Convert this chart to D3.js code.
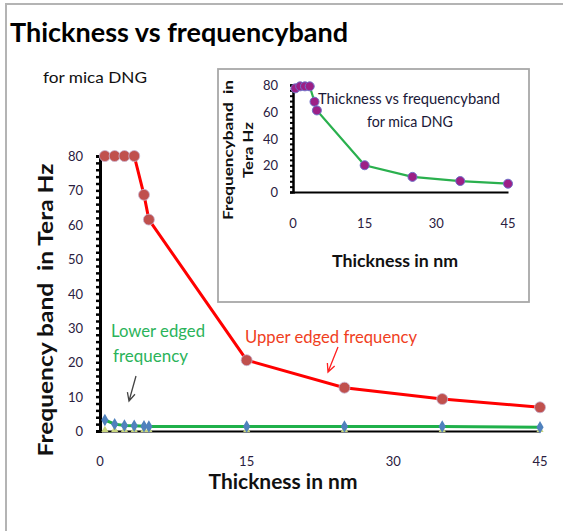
<!DOCTYPE html>
<html><head><meta charset="utf-8">
<script src="https://cdn.jsdelivr.net/npm/d3@7"></script>
<style>body{margin:0;background:#fff}svg{display:block}</style>
</head><body>
<script>
// ---- data ----
const thickness = [0.5, 1.5, 2.5, 3.5, 4.5, 5, 15, 25, 35, 45];
const upperFreq = [80, 80, 80, 80, 68.7, 61.5, 20.6, 12.6, 9.3, 6.9];
const lowerFreq = [3.2, 2.0, 1.6, 1.5, 1.4, 1.3, 1.3, 1.3, 1.3, 1.1];
const baseFreq  = [0.3, 0.3, 0.3, 0.3, 0.3, 0.3, 0.3, 0.3, 0.3, 0.3];
const insetFreq = [77.5, 79, 79, 79, 67.5, 61, 20, 11.3, 8.2, 6.2];
const xTicks = [0, 15, 30, 45];
const yTicksMain = [0, 10, 20, 30, 40, 50, 60, 70, 80];
const yTicksInset = [0, 20, 40, 60, 80];

const W = 563, H = 531;
const font = "Lato, 'Open Sans', sans-serif";
const svg = d3.select("body").append("svg").attr("width", W).attr("height", H);

// outer frame
svg.append("path").attr("d", `M6,${H} L6,4 L${W},4`).attr("fill", "none").attr("stroke", "#b4b4b4").attr("stroke-width", 2);

// titles
svg.append("text").attr("x", 10).attr("y", 42).attr("font-family", font).attr("font-weight", "bold")
  .attr("font-size", 27).attr("fill", "#000").attr("textLength", 338).attr("lengthAdjust", "spacingAndGlyphs")
  .text("Thickness vs frequencyband");
svg.append("text").attr("x", 43).attr("y", 83).attr("font-family", font)
  .attr("font-size", 16).attr("fill", "#111").attr("textLength", 104).attr("lengthAdjust", "spacingAndGlyphs")
  .text("for mica DNG");

// ---- main chart ----
const x = d3.scaleLinear().domain([0, 45]).range([100, 540]);
const y = d3.scaleLinear().domain([0, 80]).range([431, 156]);

// y axis with minor ticks
const yAxisG = svg.append("g").attr("transform", `translate(${x(0)},0)`)
  .call(d3.axisLeft(y).tickValues(d3.range(0, 81, 2)).tickSize(4).tickFormat(""));
yAxisG.select(".domain").attr("stroke", "#000").attr("stroke-width", 3);
yAxisG.selectAll(".tick line").attr("stroke", "#000").attr("stroke-width", 2.5);
svg.append("g").selectAll("text").data(yTicksMain).join("text")
  .attr("x", 83).attr("y", d => y(d) + 5).attr("text-anchor", "end")
  .attr("font-family", font).attr("font-size", 13).attr("fill", "#2a2040").text(d => d);

// x axis
const xAxisG = svg.append("g").attr("transform", `translate(0,${y(0)})`)
  .call(d3.axisBottom(x).tickValues(xTicks).tickSize(0).tickFormat(""));
xAxisG.select(".domain").attr("stroke", "#000").attr("stroke-width", 1.8);
svg.append("g").selectAll("text").data(xTicks).join("text")
  .attr("x", d => x(d)).attr("y", 466).attr("text-anchor", "middle")
  .attr("font-family", font).attr("font-size", 13).attr("fill", "#2a2040").text(d => d);

svg.append("text").attr("x", 283).attr("y", 489).attr("text-anchor", "middle")
  .attr("font-family", font).attr("font-weight", "bold").attr("font-size", 21).attr("fill", "#111")
  .attr("textLength", 149).attr("lengthAdjust", "spacingAndGlyphs")
  .text("Thickness in nm");
svg.append("text").attr("transform", "translate(53,310) rotate(-90)").attr("text-anchor", "middle")
  .attr("font-family", font).attr("font-weight", "bold").attr("font-size", 21).attr("fill", "#111")
  .attr("textLength", 293).attr("lengthAdjust", "spacingAndGlyphs")
  .attr("xml:space", "preserve").text("Frequency band  in Tera Hz");

const idx = d3.range(thickness.length);
const line = arr => d3.line().x(i => x(thickness[i])).y(i => y(arr[i]));

// lower (green line, blue diamonds, faint triangles)
svg.append("g").selectAll("path").data(idx).join("path")
  .attr("d", d3.symbol(d3.symbolTriangle, 22)())
  .attr("transform", i => `translate(${x(thickness[i])},${y(baseFreq[i])})`)
  .attr("fill", "#c9d77c");
svg.append("path").datum(idx).attr("d", line(lowerFreq)).attr("fill", "none")
  .attr("stroke", "#1fb04a").attr("stroke-width", 3);
svg.append("g").selectAll("path").data(idx).join("path")
  .attr("d", d3.symbol(d3.symbolDiamond, 45)())
  .attr("transform", i => `translate(${x(thickness[i])},${y(lowerFreq[i])})`)
  .attr("fill", "#4f81bd");

// upper (red)
svg.append("path").datum(idx).attr("d", line(upperFreq)).attr("fill", "none")
  .attr("stroke", "#ff0000").attr("stroke-width", 3);
svg.append("g").selectAll("circle").data(idx).join("circle")
  .attr("cx", i => x(thickness[i])).attr("cy", i => y(upperFreq[i])).attr("r", 5.5)
  .attr("fill", "#c0504d").attr("stroke", "#c8b4d0").attr("stroke-width", 0.8);

// annotations
const ann = svg.append("g").attr("font-family", font).attr("font-size", 16.5);
ann.append("text").attr("x", 111).attr("y", 337).attr("fill", "#2bb35a")
  .attr("textLength", 94).attr("lengthAdjust", "spacingAndGlyphs").text("Lower edged");
ann.append("text").attr("x", 113).attr("y", 362).attr("fill", "#2bb35a")
  .attr("textLength", 75).attr("lengthAdjust", "spacingAndGlyphs").text("frequency");
ann.append("text").attr("x", 245).attr("y", 343).attr("fill", "#f0401e")
  .attr("textLength", 172).attr("lengthAdjust", "spacingAndGlyphs").text("Upper edged frequency");

function arrow(x1, y1, x2, y2, color) {
  const a = Math.atan2(y2 - y1, x2 - x1), L = 9, s = 0.45;
  const p1 = [x2 - L * Math.cos(a - s), y2 - L * Math.sin(a - s)];
  const p2 = [x2 - L * Math.cos(a + s), y2 - L * Math.sin(a + s)];
  svg.append("path").attr("d", `M${x1},${y1} L${x2},${y2} M${p1} L${x2},${y2} L${p2}`)
    .attr("fill", "none").attr("stroke", color).attr("stroke-width", 1.3);
}
arrow(136, 376, 129, 401, "#444");
arrow(338, 347, 328, 372, "#ff2020");

// ---- inset ----
svg.append("rect").attr("x", 218).attr("y", 69).attr("width", 311).attr("height", 233)
  .attr("fill", "#fff").attr("stroke", "#a8a8a8").attr("stroke-width", 1.8);
const xi = d3.scaleLinear().domain([0, 45]).range([293, 508]);
const yi = d3.scaleLinear().domain([0, 80]).range([192, 85]);

const yiG = svg.append("g").attr("transform", `translate(${xi(0)},0)`)
  .call(d3.axisLeft(yi).tickValues(d3.range(0, 81, 4)).tickSize(3).tickFormat(""));
yiG.select(".domain").attr("stroke", "#000").attr("stroke-width", 2.5);
yiG.selectAll(".tick line").attr("stroke", "#000").attr("stroke-width", 2);
const xiG = svg.append("g").attr("transform", `translate(0,${yi(0)})`)
  .call(d3.axisBottom(xi).tickValues(xTicks).tickSize(0).tickFormat(""));
xiG.select(".domain").attr("stroke", "#000").attr("stroke-width", 1.8);

svg.append("g").selectAll("text").data(yTicksInset).join("text")
  .attr("x", 278).attr("y", d => yi(d) + 5).attr("text-anchor", "end")
  .attr("font-family", font).attr("font-size", 13).attr("fill", "#2a2040").text(d => d);
svg.append("g").selectAll("text").data(xTicks).join("text")
  .attr("x", d => xi(d)).attr("y", 228).attr("text-anchor", "middle")
  .attr("font-family", font).attr("font-size", 13).attr("fill", "#2a2040").text(d => d);

svg.append("text").attr("x", 395).attr("y", 267).attr("text-anchor", "middle")
  .attr("font-family", font).attr("font-weight", "bold").attr("font-size", 17.5).attr("fill", "#111")
  .attr("textLength", 126).attr("lengthAdjust", "spacingAndGlyphs")
  .text("Thickness in nm");
const yl = svg.append("g").attr("font-family", font).attr("font-weight", "bold").attr("font-size", 14).attr("fill", "#111");
yl.append("text").attr("transform", "translate(233,150) rotate(-90)").attr("text-anchor", "middle")
  .attr("xml:space", "preserve").attr("textLength", 140).attr("lengthAdjust", "spacingAndGlyphs")
  .text("Frequencyband  in");
yl.append("text").attr("transform", "translate(253,150) rotate(-90)").attr("text-anchor", "middle")
  .attr("textLength", 56).attr("lengthAdjust", "spacingAndGlyphs").text("Tera Hz");

const linei = d3.line().x(i => xi(thickness[i])).y(i => yi(insetFreq[i]));
svg.append("path").datum(idx).attr("d", linei).attr("fill", "none")
  .attr("stroke", "#2ab04e").attr("stroke-width", 2.2);
svg.append("g").selectAll("circle").data(idx).join("circle")
  .attr("cx", i => xi(thickness[i])).attr("cy", i => yi(insetFreq[i])).attr("r", 4.5)
  .attr("fill", "#9c1f86").attr("stroke", "#6f6fc8").attr("stroke-width", 1);

const it = svg.append("g").attr("font-family", font).attr("font-size", 15).attr("fill", "#1a1838")
  .attr("xml:space", "preserve");
it.append("text").attr("x", 318).attr("y", 104).attr("textLength", 182).attr("lengthAdjust", "spacingAndGlyphs")
  .text("Thickness  vs frequencyband");
it.append("text").attr("x", 410).attr("y", 127).attr("text-anchor", "middle")
  .attr("textLength", 86).attr("lengthAdjust", "spacingAndGlyphs").text("for mica DNG");
</script>
</body></html>
